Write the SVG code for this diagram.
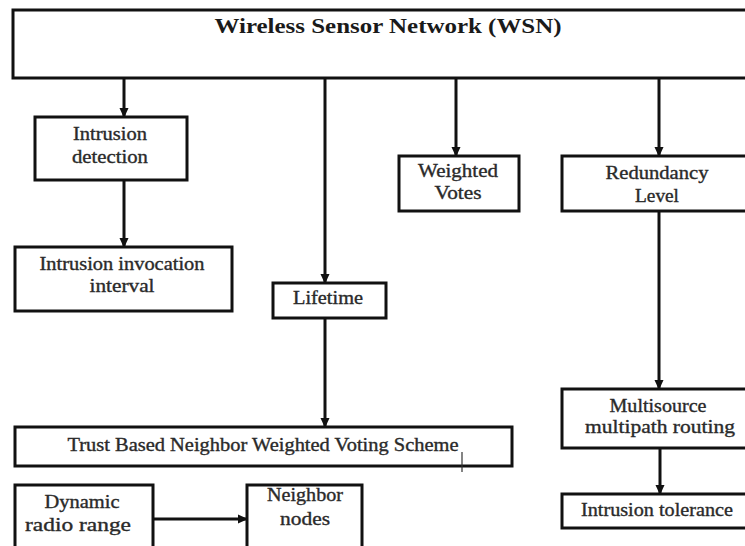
<svg xmlns="http://www.w3.org/2000/svg" width="745" height="546" viewBox="0 0 745 546">
<style>
.box{fill:#fff;stroke:#111;stroke-width:3}
.t{font-family:"Liberation Serif","Times New Roman",serif;font-size:18px;fill:#2a2a2a;stroke:#2a2a2a;stroke-width:0.35;text-anchor:middle}
.title{font-family:"Liberation Serif","Times New Roman",serif;font-size:20px;font-weight:bold;fill:#1a1a1a;text-anchor:middle}
.c{stroke:#111;stroke-width:3;fill:none;marker-end:url(#ah)}
</style>
<defs>
<marker id="ah" markerUnits="userSpaceOnUse" markerWidth="10" markerHeight="10" refX="9" refY="5" orient="auto">
<path d="M0,0.5 L10,5 L0,9.5 Z" fill="#111"/>
</marker>
</defs>
<rect width="745" height="546" fill="#fff"/>
<g id="connectors">
<line class="c" x1="124" y1="79" x2="124" y2="117"/>
<line class="c" x1="124" y1="181" x2="124" y2="247"/>
<line class="c" x1="325" y1="79" x2="325" y2="283"/>
<line class="c" x1="325" y1="319" x2="325" y2="427"/>
<line class="c" x1="456" y1="79" x2="456" y2="156"/>
<line class="c" x1="659" y1="79" x2="659" y2="156"/>
<line class="c" x1="659" y1="212" x2="659" y2="389"/>
<line class="c" x1="660" y1="449" x2="660" y2="494"/>
<line class="c" x1="154" y1="519" x2="247" y2="519"/>
</g>
<g id="wsn">
<rect class="box" x="13" y="10" width="760" height="68"/>
<text class="title" x="388" y="33" textLength="347" lengthAdjust="spacingAndGlyphs">Wireless Sensor Network (WSN)</text>
</g>
<g id="intrusion-detection">
<rect class="box" x="35" y="117" width="152" height="63"/>
<text class="t" x="110" y="140" textLength="74" lengthAdjust="spacingAndGlyphs">Intrusion</text>
<text class="t" x="110" y="163" textLength="76" lengthAdjust="spacingAndGlyphs">detection</text>
</g>
<g id="intrusion-invocation">
<rect class="box" x="15" y="247" width="217" height="64"/>
<text class="t" x="122" y="270" textLength="165" lengthAdjust="spacingAndGlyphs">Intrusion invocation</text>
<text class="t" x="122" y="292" textLength="65" lengthAdjust="spacingAndGlyphs">interval</text>
</g>
<g id="lifetime">
<rect class="box" x="273" y="283" width="113" height="35"/>
<text class="t" x="328" y="304" textLength="70" lengthAdjust="spacingAndGlyphs">Lifetime</text>
</g>
<g id="weighted-votes">
<rect class="box" x="399" y="156" width="120" height="55"/>
<text class="t" x="458" y="177" textLength="80" lengthAdjust="spacingAndGlyphs">Weighted</text>
<text class="t" x="458" y="199" textLength="47" lengthAdjust="spacingAndGlyphs">Votes</text>
</g>
<g id="redundancy">
<rect class="box" x="562" y="156" width="200" height="55"/>
<text class="t" x="657" y="179" textLength="103" lengthAdjust="spacingAndGlyphs">Redundancy</text>
<text class="t" x="657" y="202" textLength="44" lengthAdjust="spacingAndGlyphs">Level</text>
</g>
<g id="multisource">
<rect class="box" x="562" y="389" width="200" height="59"/>
<text class="t" x="658" y="412" textLength="97" lengthAdjust="spacingAndGlyphs">Multisource</text>
<text class="t" x="660" y="433" textLength="150" lengthAdjust="spacingAndGlyphs">multipath routing</text>
</g>
<g id="intrusion-tolerance">
<rect class="box" x="562" y="494" width="200" height="34"/>
<text class="t" x="657" y="516" textLength="152" lengthAdjust="spacingAndGlyphs">Intrusion tolerance</text>
</g>
<g id="trust-scheme">
<rect class="box" x="15" y="427" width="497" height="39"/>
<text class="t" x="263" y="451" textLength="391" lengthAdjust="spacingAndGlyphs">Trust Based Neighbor Weighted Voting Scheme</text>
<line x1="462" y1="452" x2="462" y2="472" stroke="#333" stroke-width="1.2"/>
</g>
<g id="dynamic-radio">
<rect class="box" x="15" y="485" width="138" height="75"/>
<text class="t" x="82" y="508" textLength="75" lengthAdjust="spacingAndGlyphs">Dynamic</text>
<text class="t" x="78" y="531" textLength="106" lengthAdjust="spacingAndGlyphs">radio range</text>
</g>
<g id="neighbor-nodes">
<rect class="box" x="247" y="485" width="115" height="75"/>
<text class="t" x="305" y="501" textLength="76" lengthAdjust="spacingAndGlyphs">Neighbor</text>
<text class="t" x="305" y="525" textLength="50" lengthAdjust="spacingAndGlyphs">nodes</text>
</g>
</svg>
